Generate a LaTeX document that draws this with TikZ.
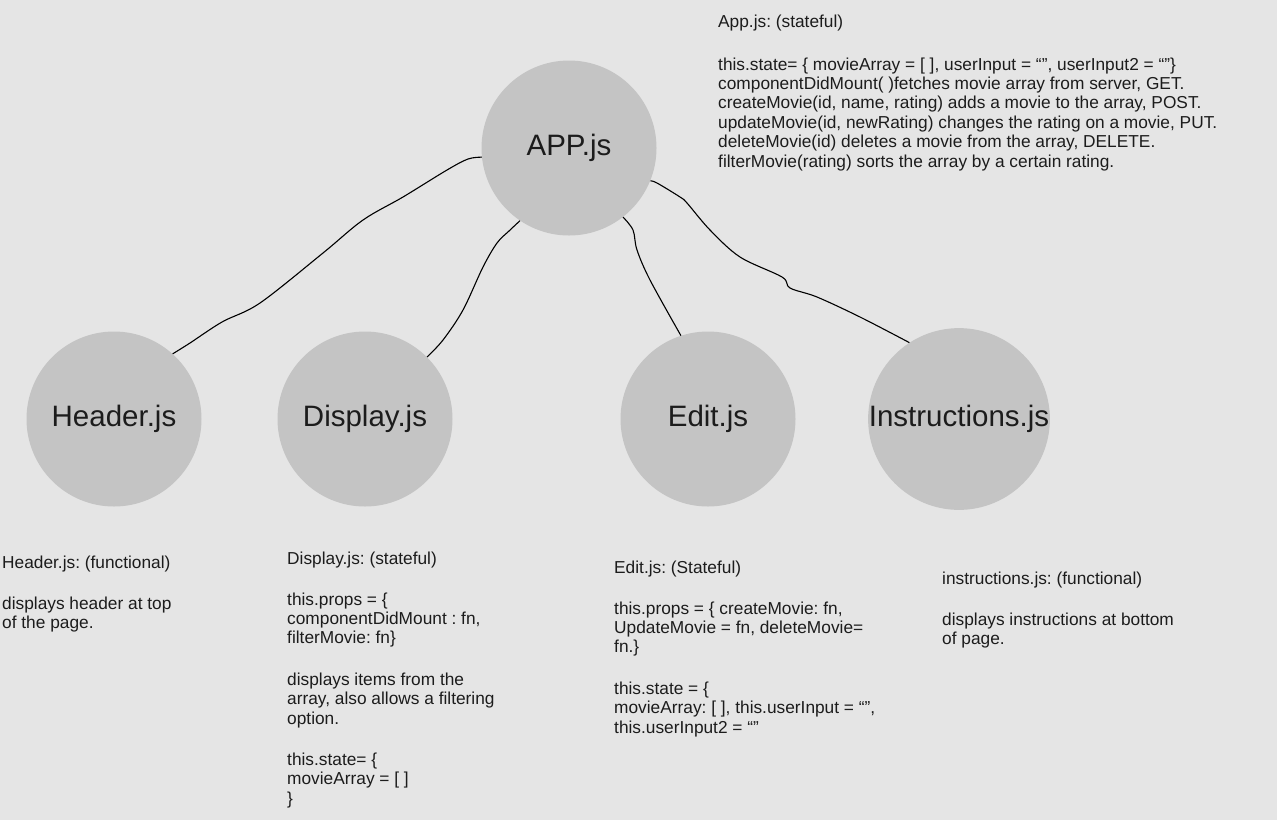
\documentclass[tikz,border=0pt]{standalone}
\usepackage{fontspec}
\setmainfont{Liberation Sans}
\frenchspacing
\definecolor{bg}{RGB}{229,229,229}
\definecolor{cmp}{RGB}{196,196,196}
\definecolor{ink}{RGB}{28,28,28}

\begin{document}
\begin{tikzpicture}[x=1pt,y=-1pt,
  comp/.style={circle,fill=cmp,minimum size=175pt,inner sep=0pt,font=\fontsize{29.5}{34}\selectfont,text=ink},
  note/.style={anchor=north west,align=left,inner sep=0pt,font=\fontsize{17.3}{19.4}\selectfont,text=ink},
  wire/.style={line width=1.1pt,black}]
  \useasboundingbox[fill=bg] (0,0) rectangle (1277,820);
  % components
  \node[comp] (app) at (569,148) {APP.js};
  \node[comp] (hdr) at (114,419) {Header.js};
  \node[comp] (dsp) at (365,419) {Display.js};
  \node[comp] (edt) at (708,419) {Edit.js};
  \node[comp] (ins) at (959,419) {Instructions.js};
  % hand drawn links
  \draw[wire] plot[smooth,tension=0.55] coordinates {(hdr.48) (190,343) (222,322) (260,303) (323,253) (363,220) (403,197) (447,170) (468,159) (app.186)};
  \draw[wire] plot[smooth,tension=0.55] coordinates {(dsp.45) (443,340) (463,310) (483,267) (497,243) (509,231) (app.236)};
  \draw[wire] plot[smooth,tension=0.55] coordinates {(edt.108) (650,280) (637,250) (633,230) (app.308)};
  \draw[wire] plot[smooth,tension=0.55] coordinates {(ins.123) (860,317) (817,297) (790,288) (782,277) (740,257) (710,230) (687,203) (680,197) (657,183) (app.338)};
  % notes
  \node[note] (appn) at (718,15) {App.js: (stateful)\\[23pt]
    this.state= \{ movieArray = [ ], userInput = “”, userInput2 = “”\}\\
    componentDidMount( )fetches movie array from server, GET.\\
    createMovie(id, name, rating) adds a movie to the array, POST.\\
    updateMovie(id, newRating) changes the rating on a movie, PUT.\\
    deleteMovie(id) deletes a movie from the array, DELETE.\\
    filterMovie(rating) sorts the array by a certain rating.};
  \node[note] (hdrn) at (2,556) {Header.js: (functional)\\[21pt]
    displays header at top\\
    of the page.};
  \node[note] (dspn) at (287,552) {Display.js: (stateful)\\[21pt]
    this.props = \{\\
    componentDidMount : fn,\\
    filterMovie: fn\}\\[22pt]
    displays items from the\\
    array, also allows a filtering\\
    option.\\[22pt]
    this.state= \{\\
    movieArray = [ ]\\
    \}};
  \node[note] (edtn) at (614,561) {Edit.js: (Stateful)\\[21pt]
    this.props = \{ createMovie: fn,\\
    UpdateMovie = fn, deleteMovie=\\
    fn.\}\\[22pt]
    this.state = \{\\
    movieArray: [ ], this.userInput = “”,\\
    this.userInput2 = “”};
  \node[note] (insn) at (942,572) {instructions.js: (functional)\\[21pt]
    displays instructions at bottom\\
    of page.};
\end{tikzpicture}
\end{document}
